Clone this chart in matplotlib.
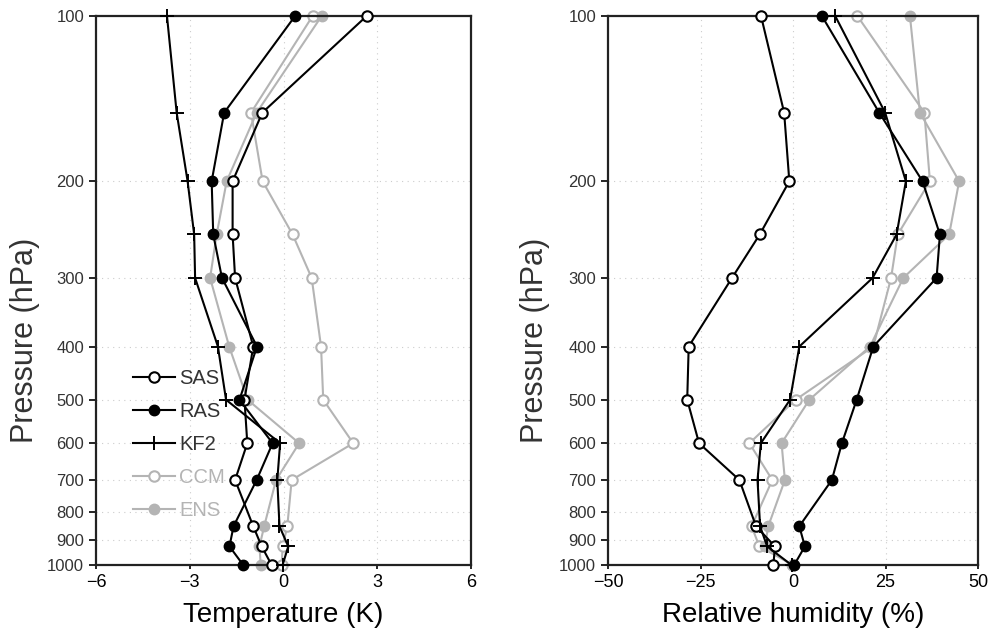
import numpy as np
import matplotlib
matplotlib.use("Agg")
import matplotlib.pyplot as plt

# pressure levels (hPa)
levels = [1000, 925, 850, 700, 600, 500, 400, 300, 250, 200, 150, 100]

# temperature bias (K), bottom to top
t_sas = [-0.38, -0.7, -0.97, -1.55, -1.16, -1.25, -0.97, -1.55, -1.63, -1.63, -0.68, 2.66]
t_ras = [-1.29, -1.73, -1.6, -0.86, -0.35, -1.41, -0.85, -1.97, -2.25, -2.3, -1.9, 0.37]
t_kf2 = [-0.03, 0.15, -0.13, -0.2, -0.11, -1.84, -2.1, -2.83, -2.86, -3.07, -3.42, -3.73]
t_ccm = [-0.06, -0.03, 0.12, 0.26, 2.23, 1.27, 1.2, 0.9, 0.29, -0.67, -1.04, 0.93]
t_ens = [-0.73, -0.77, -0.62, -0.24, 0.5, -1.15, -1.74, -2.35, -2.14, -1.82, -0.86, 1.22]

# relative humidity bias (%), bottom to top
rh_sas = [-5.3, -4.9, -10.0, -14.5, -25.4, -28.6, -28.2, -16.5, -9.0, -1.0, -2.4, -8.65]
rh_ras = [0.3, 3.2, 1.7, 10.5, 13.2, 17.2, 21.7, 38.8, 39.7, 35.0, 23.3, 7.8]
rh_kf2 = [-0.4, -7.0, -8.9, -9.6, -8.7, -0.8, 1.7, 21.5, 28.0, 30.5, 24.9, 11.4]
rh_ccm = [0.0, -9.1, -11.2, -5.6, -11.8, 0.7, 21.7, 26.5, 28.3, 37.0, 35.5, 17.4]
rh_ens = [-0.4, -7.6, -6.7, -2.2, -3.1, 4.4, 20.8, 29.8, 42.2, 44.9, 34.3, 31.6]

names = ["SAS", "RAS", "KF2", "CCM", "ENS"]
ytick_vals = [100, 200, 300, 400, 500, 600, 700, 800, 900, 1000]

gray = "#b4b4b4"
styles = {
    "SAS": dict(color="black", marker="o", mfc="white", mec="black", ms=7.5, mew=1.5),
    "RAS": dict(color="black", marker="o", mfc="black", mec="black", ms=7.5),
    "KF2": dict(color="black", marker="+", ms=10, mew=1.4),
    "CCM": dict(color=gray, marker="o", mfc="white", mec=gray, ms=7.5, mew=1.5),
    "ENS": dict(color=gray, marker="o", mfc=gray, mec=gray, ms=7.5),
}

plt.rcParams['font.family'] = ['Liberation Sans', 'DejaVu Sans']

fig = plt.figure(figsize=(9.89, 6.37), dpi=100)
ax1 = fig.add_axes([0.0971, 0.1130, 0.3792, 0.8619])
ax2 = fig.add_axes([0.6148, 0.1130, 0.3741, 0.8619])

temp = [t_sas, t_ras, t_kf2, t_ccm, t_ens]
rh = [rh_sas, rh_ras, rh_kf2, rh_ccm, rh_ens]

for ax, data, xlim, xt, xlabel, ylx in [
    (ax1, temp, (-6, 6), [-6, -3, 0, 3, 6], "Temperature (K)", -0.15),
    (ax2, rh, (-50, 50), [-50, -25, 0, 25, 50], "Relative humidity (%)", -0.157),
]:
    # grey lines first so black ones sit on top
    order = [3, 4, 0, 1, 2]
    for i in order:
        ax.plot(data[i], levels, lw=1.5, label=names[i], clip_on=False,
                zorder=3 if styles[names[i]]["color"] == "black" else 2,
                **styles[names[i]])
    ax.set_yscale("log")
    ax.set_ylim(1000, 100)
    ax.set_xlim(*xlim)
    ax.set_yticks(ytick_vals)
    ax.set_yticklabels([str(v) for v in ytick_vals], fontsize=12, color="#333333")
    ax.yaxis.set_minor_locator(matplotlib.ticker.NullLocator())
    ax.set_xticks(xt)
    ax.set_xticklabels([str(v).replace("-", "\u2212") for v in xt], fontsize=13)
    for v in ytick_vals[1:-1]:
        ax.axhline(v, color="#cccccc", lw=0.8, ls=(0, (1, 4)), zorder=0)
    for v in xt[1:-1]:
        ax.axvline(v, color="#cccccc", lw=0.8, ls=(0, (1, 4)), zorder=0)
    for s in ax.spines.values():
        s.set_linewidth(1.6)
        s.set_color("#222222")
    ax.tick_params(axis="both", direction="out", length=5, width=1.2)
    ax.tick_params(axis="x", length=3)
    ax.set_xlabel(xlabel, fontsize=20, labelpad=8)
    ax.set_ylabel("Pressure (hPa)", fontsize=22, color="#333333")
    ax.yaxis.set_label_coords(ylx, 0.41)

handles, labels = ax1.get_legend_handles_labels()
hmap = dict(zip(labels, handles))
leg = ax1.legend([hmap[n] for n in names], names, loc="upper left",
                 bbox_to_anchor=(0.05, 0.39), frameon=False, fontsize=14.5,
                 handlelength=2.1, handletextpad=0.2, labelspacing=0.7,
                 labelcolor="linecolor")
for t, n in zip(leg.get_texts(), names):
    if styles[n]["color"] == "black":
        t.set_color("#333333")

fig.savefig("out.png", dpi=100)
